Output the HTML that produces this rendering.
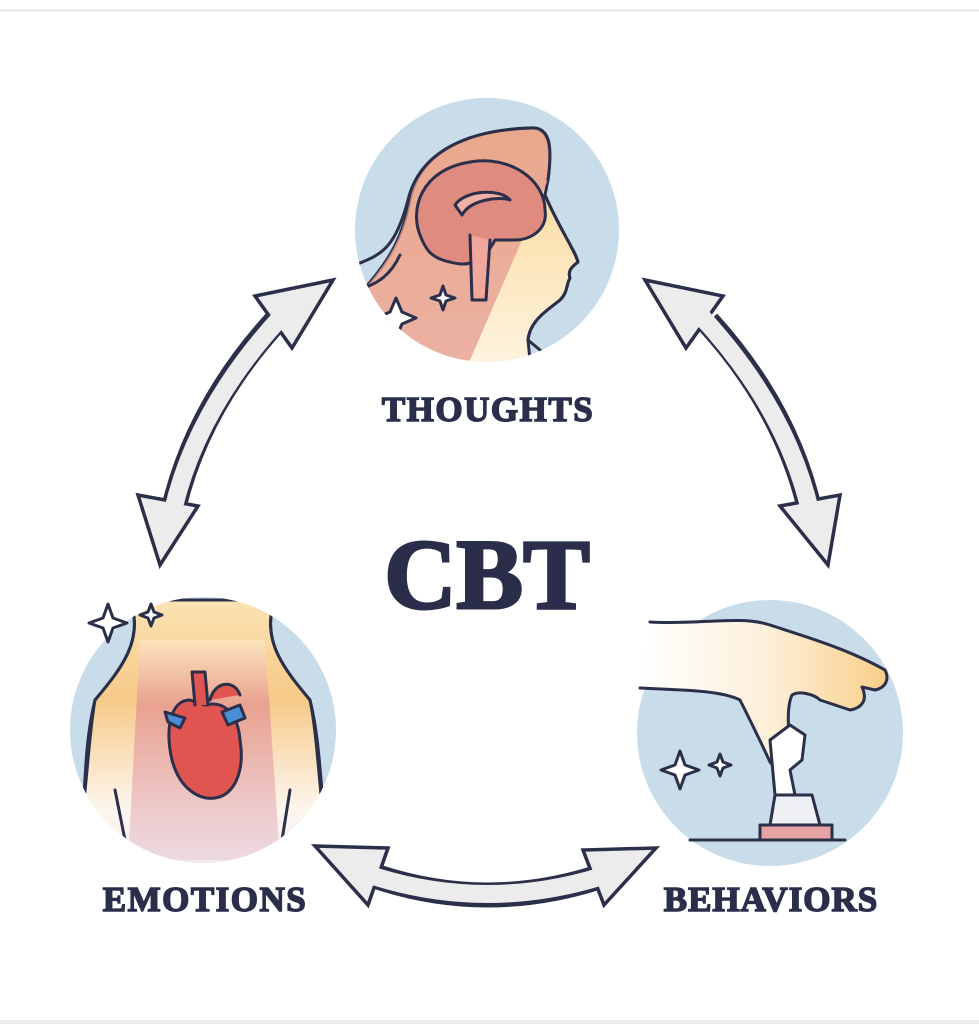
<!DOCTYPE html>
<html><head><meta charset="utf-8"><style>
html,body{margin:0;padding:0;background:#fff;}
body{width:979px;height:1024px;overflow:hidden;position:relative;}
</style></head><body>
<svg width="979" height="1024" viewBox="0 0 979 1024" xmlns="http://www.w3.org/2000/svg" style="position:absolute;left:0;top:0">
<defs>
<linearGradient id="yel" x1="0" y1="0" x2="0" y2="1"><stop offset="0" stop-color="#f8d38a"/><stop offset="1" stop-color="#fff6e6"/></linearGradient>
<linearGradient id="torso" x1="0" y1="0" x2="0" y2="1"><stop offset="0" stop-color="#fbe3b4"/><stop offset="0.35" stop-color="#f6c988"/><stop offset="0.75" stop-color="#fdf6ee"/><stop offset="1" stop-color="#f1e6ee"/></linearGradient>
<linearGradient id="chest" x1="0" y1="0" x2="0" y2="1"><stop offset="0" stop-color="#fbe6c0"/><stop offset="0.3" stop-color="#e69a90"/><stop offset="1" stop-color="#ecd6df"/></linearGradient>
<linearGradient id="hand" x1="0" y1="0" x2="1" y2="0"><stop offset="0" stop-color="#fff"/><stop offset="0.5" stop-color="#fdf0dc"/><stop offset="1" stop-color="#f8cf88"/></linearGradient>
<clipPath id="c1"><circle cx="487" cy="230" r="132"/></clipPath>
<clipPath id="c2"><circle cx="203" cy="730" r="133"/></clipPath>
</defs>
<rect x="0" y="9" width="979" height="3" fill="#ececec"/>
<rect x="0" y="1020" width="979" height="4" fill="#ececec"/>

<circle cx="487" cy="230" r="132" fill="#c9dcea"/>
<g clip-path="url(#c1)" stroke="#2b2f4a" stroke-width="3" stroke-linejoin="round" stroke-linecap="round">
<path d="M410,200 C420,150 470,130 530,128 C550,126 552,150 548,180 L545,195 C560,230 575,250 578,262 C570,268 568,272 570,278 C566,285 568,292 560,300 C548,310 530,320 528,340 L530,360 L380,380 L355,300 C380,270 400,250 410,200 Z" fill="url(#yel)"/>
<path d="M410,200 C420,150 470,130 530,128 C550,126 552,150 548,180 L470,360 L380,380 L355,300 C380,270 400,250 410,200 Z" fill="#e49a8d" fill-opacity="0.75" stroke="none"/>
<path d="M355,265 C380,255 395,250 408,200 C420,150 470,130 530,128 C552,126 552,150 548,180 M545,195 C560,230 575,250 578,262 C570,268 568,272 570,278 C566,285 568,292 560,300 C548,310 530,320 528,340 L552,360" fill="none"/>
<path d="M355,290 C380,285 392,272 400,255" fill="none"/>
<path d="M420,235 C410,210 420,170 470,162 C510,155 545,180 545,210 C548,230 530,240 515,240 L495,240 C485,260 470,268 450,262 C430,258 425,248 420,235 Z" fill="#e08b80"/>
<path d="M455,205 C465,190 500,188 510,200 C498,196 470,200 462,215 Z" fill="#f2b0a5"/>
<path d="M470,235 L472,300 L486,300 L490,240" fill="#f1a79b"/>
<path d="M390,312 l6,-14 l6,14 l14,6 l-14,6 l-6,14 l-6,-14 l-14,-6 z M440,295 l3,-9 l3,9 l9,3 l-9,3 l-3,9 l-3,-9 l-9,-3 z" fill="#fff"/>
</g>

<circle cx="203" cy="730" r="133" fill="#c9dcea"/>
<g clip-path="url(#c2)" stroke="#2b2f4a" stroke-width="3" stroke-linejoin="round" stroke-linecap="round">
<path d="M130,600 C145,640 120,670 95,700 C85,740 85,780 80,880 L330,880 C320,780 320,740 310,700 C285,670 260,640 275,600 Z" fill="url(#torso)"/>
<path d="M140,640 L265,640 L280,860 L128,860 Z" fill="url(#chest)" stroke="none" opacity="0.85"/>
<path d="M130,600 C145,640 120,670 95,700 C88,740 88,780 75,880 M275,600 C260,640 285,670 310,700 C318,740 318,780 330,880" fill="none"/>
<path d="M115,790 L125,840 M290,790 L282,840" fill="none"/>
<path d="M190,700 C170,700 165,730 172,760 C180,790 200,800 215,798 C235,795 245,770 240,740 C238,715 225,700 205,705 Z" fill="#e0554f"/>
<path d="M165,712 L185,718 L180,728 L168,722 Z M222,712 L240,705 L245,718 L228,725 Z" fill="#4b8ed6"/>
<path d="M195,705 L192,672 L205,672 L208,705 M210,700 C215,680 235,680 240,695" fill="#e0554f"/>
</g>
<path d="M103,618 l5,-14 l5,14 l14,5 l-14,5 l-5,14 l-5,-14 l-14,-5 z M148,612 l3,-8 l3,8 l8,3 l-8,3 l-3,8 l-3,-8 l-8,-3 z" fill="#fff" stroke="#2b2f4a" stroke-width="3" stroke-linejoin="round"/>

<circle cx="770" cy="733" r="133" fill="#c9dcea"/>
<g stroke="#2b2f4a" stroke-width="3" stroke-linejoin="round" stroke-linecap="round">
<path d="M650,622 C700,625 740,615 770,625 C810,638 850,650 885,670 C890,680 885,688 875,690 L862,687 C868,700 862,708 850,710 L820,700 C815,695 800,690 792,695 C785,710 790,740 790,760 C785,770 775,770 770,762 C760,740 750,720 740,700 C720,690 680,690 640,688" fill="url(#hand)"/>
<path d="M770,740 L790,725 L805,735 L802,760 L790,770 L795,795 L775,795 Z" fill="#fff"/>
<path d="M775,795 L770,825 L820,825 L812,795 Z" fill="#eef0f3"/>
<path d="M760,825 L760,840 L832,840 L832,825 Z" fill="#e5a3a3"/>
<path d="M690,840 L845,840" fill="none"/>
<path d="M675,765 l5,-14 l5,14 l14,5 l-14,5 l-5,14 l-5,-14 l-14,-5 z M717,762 l3,-8 l3,8 l8,3 l-8,3 l-3,8 l-3,-8 l-8,-3 z" fill="#fff"/>
</g>

<!-- Arrows -->
<g fill="none" stroke-linecap="butt">
<path d="M275,322 Q195,410 172,515" stroke="#2b2f4a" stroke-width="25"/>
<path d="M708,322 Q788,410 811,515" stroke="#2b2f4a" stroke-width="25"/>
<path d="M372,875 Q487,915 605,875" stroke="#2b2f4a" stroke-width="25"/>
</g>
<g fill="#ececec" stroke="#2b2f4a" stroke-width="3.5" stroke-linejoin="miter">
<path d="M333,280 L255,296 L292,348 Z"/>
<path d="M160,565 L138,495 L198,506 Z"/>
<path d="M645,280 L723,296 L686,348 Z"/>
<path d="M828,565 L840,495 L780,506 Z"/>
<path d="M315,846 L388,848 L368,905 Z"/>
<path d="M656,848 L583,850 L604,905 Z"/>
</g>
<g fill="none" stroke="#ececec" stroke-width="18" stroke-linecap="butt">
<path d="M282,316 Q195,410 172,515"/>
<path d="M701,316 Q788,410 811,515"/>
<path d="M364,873 Q487,915 612,873"/>
</g>

<g font-family="'Liberation Serif',serif" font-weight="bold" fill="#2a2e4a" stroke="#2a2e4a" text-anchor="middle">
<text x="488" y="421" font-size="35" stroke-width="1.5" letter-spacing="1.5">THOUGHTS</text>
<text x="487" y="608" font-size="100" stroke-width="3">CBT</text>
<text x="205" y="911" font-size="35" stroke-width="1.5" letter-spacing="1.5">EMOTIONS</text>
<text x="771" y="911" font-size="35" stroke-width="1.5" letter-spacing="1">BEHAVIORS</text>
</g>
</svg>
</body></html>
